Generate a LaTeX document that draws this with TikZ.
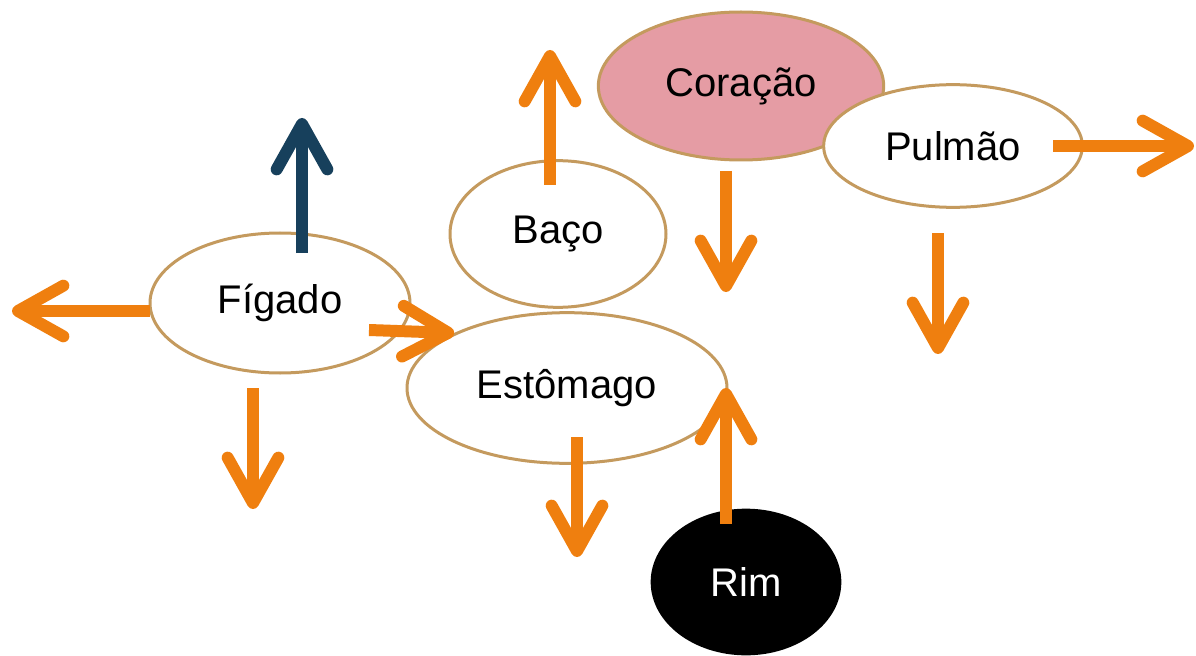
\documentclass[tikz,border=0pt]{standalone}
\usepackage{fontspec}
\setmainfont{Liberation Sans}
\usepackage{xcolor}
\usetikzlibrary{shapes.geometric, arrows.meta}
\definecolor{flowor}{HTML}{EF7F0F}
\definecolor{flowbl}{HTML}{17405C}
\definecolor{rimtan}{HTML}{C49A5E}
\definecolor{heartp}{HTML}{E59CA4}

\begin{document}
\begin{tikzpicture}[x=0.75pt, y=-0.75pt,
			organ/.style={ellipse, draw=rimtan, line width=2.25pt, fill=white,
				inner sep=0pt, font=\fontsize{30}{36}\selectfont},
			flow/.style={draw=flowor, line width=9pt,
				-{Straight Barb[length=34pt, width=38pt, round]}}]
		\useasboundingbox (0, 0) rectangle (1196, 656);

		\node[organ, fill=heartp, minimum width=214pt, minimum height=111pt] (coracao) at (741, 86) {Coração};
		\node[organ, minimum width=194pt, minimum height=92pt] (pulmao) at (953, 146) {Pulmão};
		\node[organ, minimum width=162pt, minimum height=110pt] (baco) at (558, 234) {Baço};
		\node[organ, minimum width=195pt, minimum height=105pt] (figado) at (280, 303) {Fígado};
		\node[organ, minimum width=240pt, minimum height=113pt] (estomago) at (567, 388) {Estômago};
		\node[organ, draw=none, fill=black, text=white, minimum width=143pt, minimum height=110pt] (rim) at (746, 582) {Rim};

		% free ends of the arrows
		\coordinate (figado-w) at (150, 311);
		\coordinate (figado-wt) at (12, 311);
		\coordinate (figado-n) at (302, 253);
		\coordinate (figado-nt) at (302, 118);
		\coordinate (figado-s) at (253, 388);
		\coordinate (figado-st) at (253, 509);
		\coordinate (figado-e) at (369, 330);
		\coordinate (baco-n) at (550, 185);
		\coordinate (baco-nt) at (550, 50);
		\coordinate (coracao-s) at (726, 171);
		\coordinate (coracao-st) at (726, 292);
		\coordinate (pulmao-e) at (1053, 146);
		\coordinate (pulmao-et) at (1194, 146);
		\coordinate (pulmao-s) at (938, 233);
		\coordinate (pulmao-st) at (938, 354);
		\coordinate (estomago-s) at (577, 437);
		\coordinate (estomago-st) at (577, 557);
		\coordinate (rim-n) at (726, 524);

		\draw[flow] (figado-w) -- (figado-wt);
		\draw[flow, draw=flowbl] (figado-n) -- (figado-nt);
		\draw[flow] (figado-s) -- (figado-st);
		\draw[flow] (figado-e) -- (estomago.154);
		\draw[flow] (baco-n) -- (baco-nt);
		\draw[flow] (coracao-s) -- (coracao-st);
		\draw[flow] (pulmao-e) -- (pulmao-et);
		\draw[flow] (pulmao-s) -- (pulmao-st);
		\draw[flow] (estomago-s) -- (estomago-st);
		\draw[flow] (rim-n) -- (rim-n |- estomago.east);
	\end{tikzpicture}
\end{document}
